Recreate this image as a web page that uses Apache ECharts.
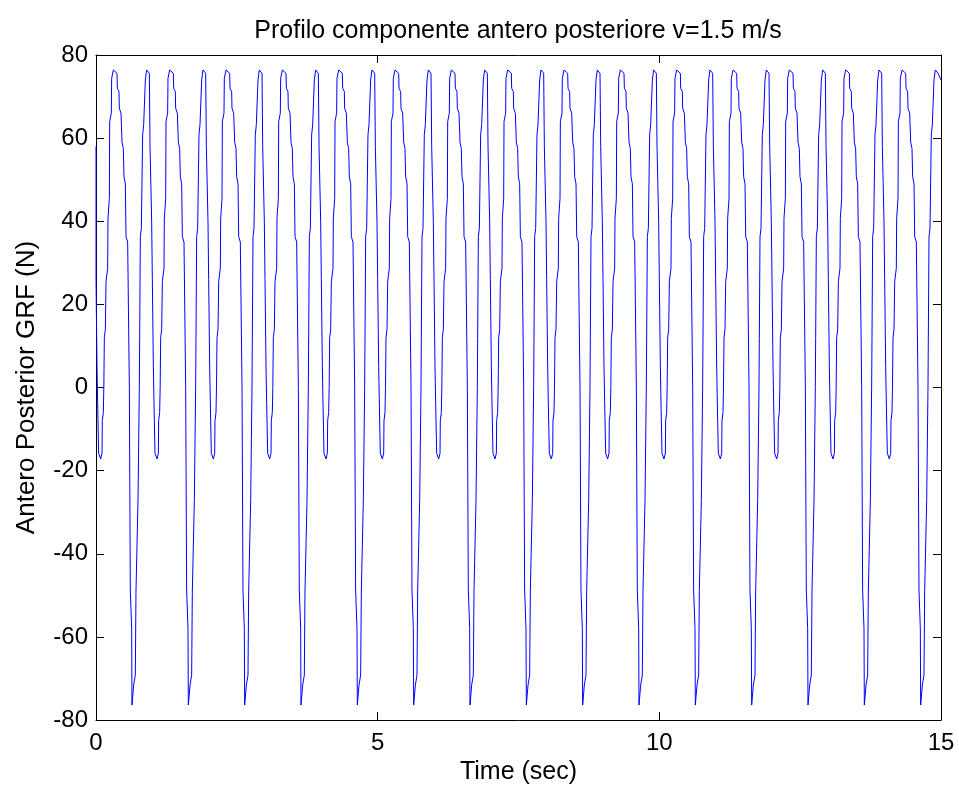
<!DOCTYPE html>
<html>
<head>
<meta charset="utf-8">
<script src="https://cdn.jsdelivr.net/npm/echarts@6/dist/echarts.min.js"></script>
<style>html,body{margin:0;padding:0;background:#fff}#c{width:959px;height:792px}</style>
</head>
<body>
<div id="c"></div>
<script>
// Start time of each 1-second gait cycle (s)
const strideStart = [0, 1, 2, 3, 4, 5, 6, 7, 8, 9, 10, 11, 12, 13, 14];
// One cycle of the antero-posterior force: time inside the cycle (s) and force (N)
const cycleTime = [0.000, 0.018, 0.030, 0.047, 0.083, 0.107, 0.112, 0.130, 0.139, 0.148,
  0.166, 0.178, 0.207, 0.213, 0.237, 0.243, 0.272, 0.278, 0.308, 0.337,
  0.373, 0.379, 0.408, 0.414, 0.444, 0.462, 0.485, 0.497, 0.521, 0.533,
  0.562, 0.592, 0.609, 0.633, 0.639, 0.663, 0.669, 0.698, 0.710, 0.746,
  0.769, 0.775, 0.787, 0.805, 0.828, 0.846, 0.876, 0.899, 0.923, 0.947,
  0.959, 0.988];
const cycleForce = [26, 5, -4, -15.8, -17.2, -15.8, -8, -6, 0, 12,
  14, 25.5, 28.7, 40.7, 45.5, 64, 66, 74.4, 76.4, 76.4,
  75.6, 72, 71.2, 67.2, 66, 59, 57.5, 50.7, 49, 36.3,
  35, 0, -48.7, -58, -76.4, -76.4, -71.6, -69.2, -49, -27,
  0, 11.8, 36.3, 38.3, 60.8, 63.2, 74, 76.4, 76.4, 75.6,
  58, 40];
const traceStart = [0, 58];   // first recorded sample
const traceEnd = [15, 74];    // last recorded sample
const xTicks = [0, 5, 10, 15];
const yTicks = [-80, -60, -40, -20, 0, 20, 40, 60, 80];

const data = [traceStart];
strideStart.forEach(function (s) {
  cycleTime.forEach(function (t, i) {
    const time = s + t;
    if (time < traceEnd[0] - 0.05) data.push([time, cycleForce[i]]);
  });
});
data.push(traceEnd);

const FONT = 'Liberation Sans, Arial, Helvetica, sans-serif';
const axisCommon = {
  axisLine: { show: true, onZero: false, lineStyle: { color: '#000', width: 1 } },
  axisTick: { show: true, inside: true, length: 8, lineStyle: { color: '#000' } },
  splitLine: { show: false }
};
const chart = echarts.init(document.getElementById('c'), null, { renderer: 'canvas' });
chart.setOption({
  animation: false,
  backgroundColor: '#fff',
  title: {
    text: 'Profilo componente antero posteriore v=1.5 m/s',
    left: 513, textAlign: 'center', top: 14,
    textStyle: { fontFamily: FONT, fontSize: 25, fontWeight: 'normal', color: '#000' }
  },
  grid: { left: 96, right: 18, top: 55, bottom: 72, show: false },
  xAxis: [
    Object.assign({
      type: 'value', position: 'bottom', min: xTicks[0], max: xTicks[xTicks.length - 1], interval: 5,
      name: 'Time (sec)', nameLocation: 'middle', nameGap: 39,
      nameTextStyle: { fontFamily: FONT, fontSize: 25, color: '#000' },
      axisLabel: { fontFamily: FONT, fontSize: 24, color: '#000', margin: 11 }
    }, axisCommon),
    Object.assign({
      type: 'value', position: 'top', min: xTicks[0], max: xTicks[xTicks.length - 1], interval: 5,
      axisLabel: { show: false }
    }, axisCommon)
  ],
  yAxis: [
    Object.assign({
      type: 'value', position: 'left', min: yTicks[0], max: yTicks[yTicks.length - 1], interval: 20,
      name: 'Antero Posterior GRF (N)', nameLocation: 'middle', nameGap: 56,
      nameTextStyle: { fontFamily: FONT, fontSize: 26, color: '#000' },
      axisLabel: { fontFamily: FONT, fontSize: 24, color: '#000', margin: 8 }
    }, axisCommon),
    Object.assign({
      type: 'value', position: 'right', min: yTicks[0], max: yTicks[yTicks.length - 1], interval: 20,
      axisLabel: { show: false }
    }, axisCommon)
  ],
  series: [{
    type: 'line', xAxisIndex: 0, yAxisIndex: 0, data: data,
    showSymbol: false, symbol: 'none', smooth: false,
    lineStyle: { color: '#0000ff', width: 1 }
  }]
});
</script>
</body>
</html>
